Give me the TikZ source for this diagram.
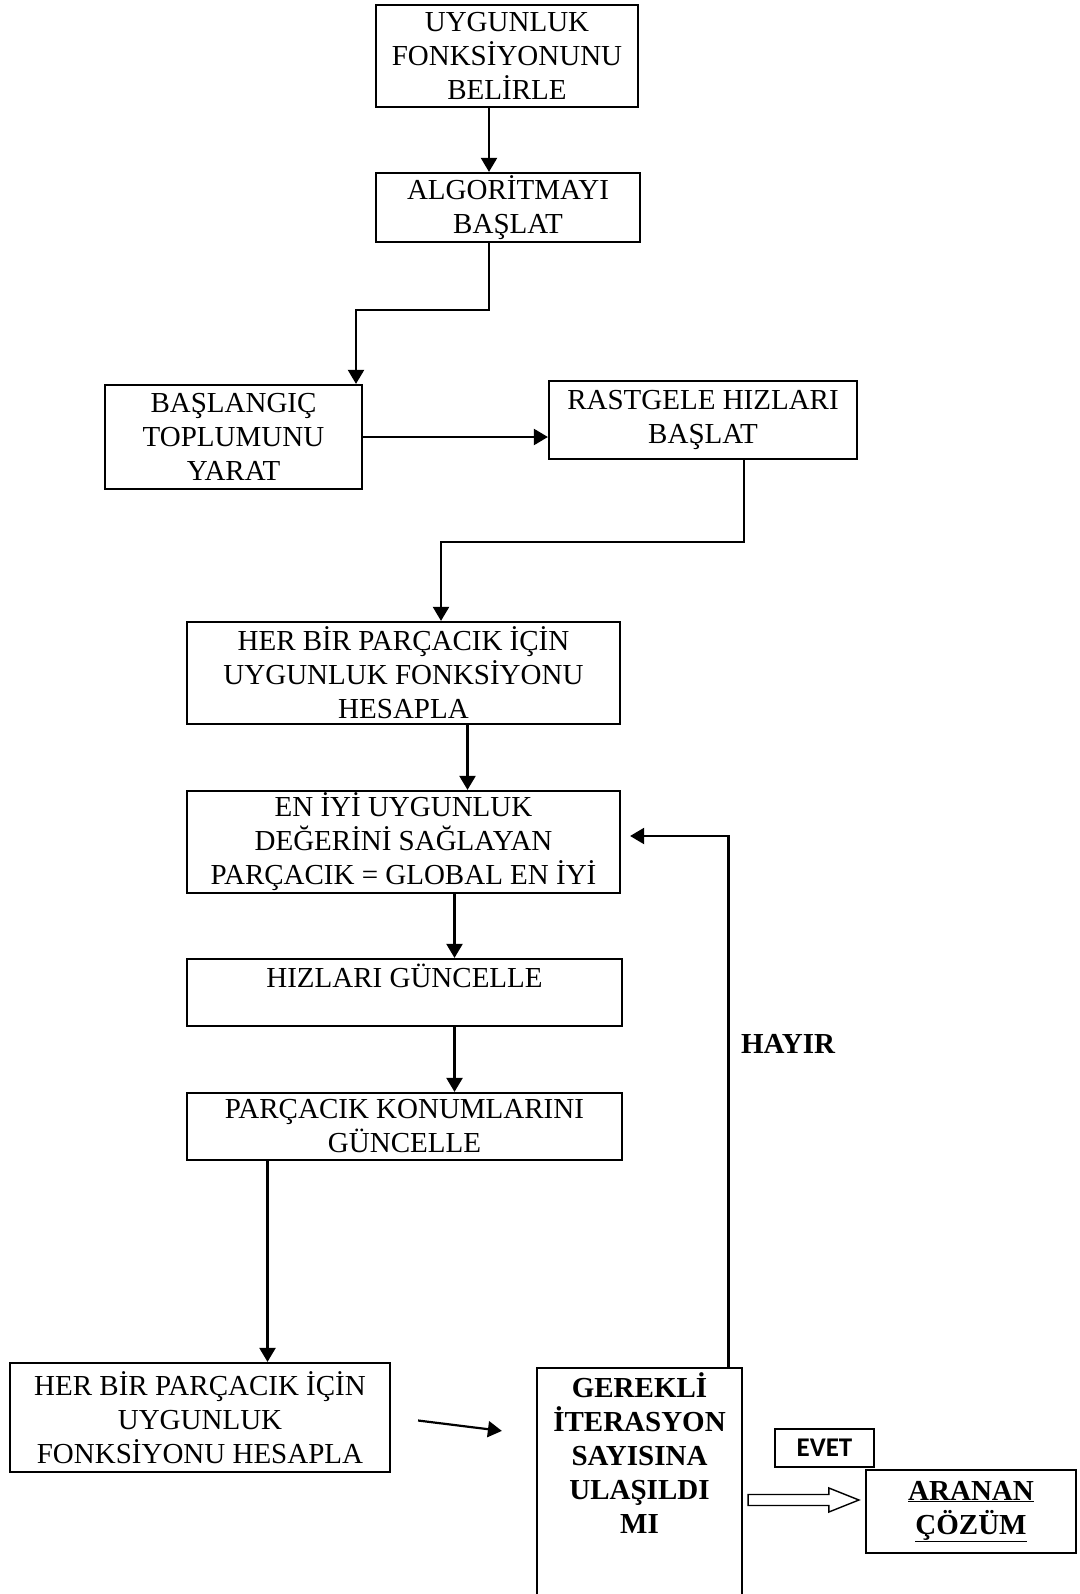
\documentclass[tikz,border=0pt]{standalone}
\usepackage{fontspec}
\setmainfont{Liberation Serif}
\newfontfamily\calfont{Carlito}
\usepackage{tikz}
\usetikzlibrary{arrows.meta,calc}

\begin{document}
\begin{tikzpicture}[
  x=1pt, y=-1pt,
  blok/.style={draw, line width=2.2pt, align=center, inner sep=0pt, font=\fontsize{29}{34}\selectfont},
  kalin/.style={blok, font=\fontsize{29}{34}\selectfont\bfseries},
  arr/.style={-{Triangle[length=14pt,width=16pt]}, line width=2.2pt}
]
\useasboundingbox (0,0) rectangle (1079,1594);
\node[blok, minimum width=262, minimum height=102] (Belirle) at (507,56) {UYGUNLUK\\FONKSİYONUNU\\BELİRLE};
\node[blok, minimum width=264, minimum height=69] (Baslat) at (508,207.5) {ALGORİTMAYI\\BAŞLAT};
\node[blok, minimum width=257, minimum height=104] (Toplum) at (233.5,437) {BAŞLANGIÇ\\TOPLUMUNU\\YARAT};
\node[blok, minimum width=308, minimum height=78] (Hiz) at (703,420) {RASTGELE HIZLARI\\BAŞLAT};
\node[blok, minimum width=433, minimum height=102] (Uygunluk) at (403.5,673) {HER BİR PARÇACIK İÇİN\\UYGUNLUK FONKSİYONU\\HESAPLA};
\node[blok, minimum width=433, minimum height=102] (Global) at (403.5,842) {EN İYİ UYGUNLUK\\DEĞERİNİ SAĞLAYAN\\PARÇACIK = GLOBAL EN İYİ};
\node[blok, minimum width=435, minimum height=67] (HizGun) at (404.5,992.5) {HIZLARI GÜNCELLE\\~};
\node[blok, minimum width=435, minimum height=67] (Konum) at (404.5,1126.5) {PARÇACIK KONUMLARINI\\GÜNCELLE};
\node[blok, minimum width=380, minimum height=109] (UygunlukB) at (200,1417.5) {HER BİR PARÇACIK İÇİN\\UYGUNLUK\\FONKSİYONU HESAPLA};
\node[kalin, minimum width=205, minimum height=272] (Iter) at (639.5,1504) {GEREKLİ\\İTERASYON\\SAYISINA\\ULAŞILDI\\MI\\~\\~\\~};
\node[blok, line width=1.6pt, minimum width=99, minimum height=38, font=\calfont\fontsize{27}{32}\selectfont\bfseries] (Evet) at (824.5,1448) {EVET};
\node[kalin, minimum width=210, minimum height=83] (Cozum) at (971,1511.5) {\underline{ARANAN}\\\underline{ÇÖZÜM}};
\node[font=\fontsize{29}{34}\selectfont\bfseries] (Hayir) at (788,1044) {HAYIR};
% elbow points
\coordinate (k1) at (356,310);
\coordinate (k2) at (441,542);
\draw[arr] ([xshift=-18]Belirle.south) -- ([xshift=-18]Belirle.south |- Baslat.north);
\draw[arr] ([xshift=-19]Baslat.south) |- (k1) -- (k1 |- Toplum.north);
\draw[arr] (Toplum.east) -- (Toplum.east -| Hiz.west);
\draw[arr] ([xshift=41]Hiz.south) |- (k2) -- (k2 |- Uygunluk.north);
\draw[arr] ([xshift=64]Uygunluk.south) -- ([xshift=64]Global.north);
\draw[arr] ([xshift=51]Global.south) -- ([xshift=51]Global.south |- HizGun.north);
\draw[arr] ([xshift=50]HizGun.south) -- ([xshift=50]Konum.north);
\draw[arr] ([xshift=-137]Konum.south) -- ([xshift=-137]Konum.south |- UygunlukB.north);
\draw[arr] ($(UygunlukB.east)+(27,3)$) -- ($(Iter.north west)+(-34,64)$);
\draw[arr] ([xshift=89]Iter.north) |- ([xshift=9,yshift=6]Global.east);
% hollow arrow to the result
\draw[line width=1.4pt] let \p1=([xshift=5,yshift=4]Iter.east), \p2=([xshift=-6,yshift=4]Cozum.west) in
  (\x1,\y1+5.5) -- (\x2-30,\y1+5.5) -- (\x2-30,\y1+12) -- (\x2,\y1)
  -- (\x2-30,\y1-12) -- (\x2-30,\y1-5.5) -- (\x1,\y1-5.5) -- cycle;
\end{tikzpicture}
\end{document}
